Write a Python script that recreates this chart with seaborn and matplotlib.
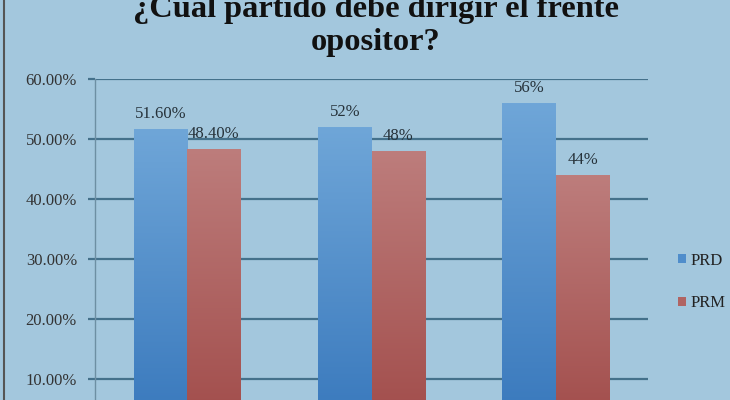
import matplotlib
matplotlib.use("Agg")
import matplotlib.pyplot as plt
import numpy as np
import pandas as pd
import seaborn as sns
from matplotlib.ticker import PercentFormatter
from matplotlib.colors import LinearSegmentedColormap
from matplotlib.lines import Line2D

# data (x labels are cropped out of the reference)
title = "¿Cuál partido debe dirigir el frente\nopositor?"
categories = ["Encuesta 1", "Encuesta 2", "Encuesta 3"]
parties = ["PRD", "PRM"]
prd_values = [51.6, 52.0, 56.0]
prm_values = [48.4, 48.0, 44.0]
prd_labels = ["51.60%", "52%", "56%"]
prm_labels = ["48.40%", "48%", "44%"]
y_ticks = [10, 20, 30, 40, 50, 60]  # 0% is below the cropped edge

df = pd.DataFrame({
    "categoria": categories * 2,
    "partido": [parties[0]] * len(categories) + [parties[1]] * len(categories),
    "valor": prd_values + prm_values,
})

bg = "#a3c7dd"
grid_color = "#44718b"
palette = {"PRD": "#4f8dcb", "PRM": "#b06463"}
# bottom -> top gradient, like the excel bars
gradients = {
    "PRD": ("#3676bb", "#6fa6d8"),
    "PRM": ("#a04a48", "#bd7d7c"),
}

sns.set_theme(style="white")
plt.rcParams["font.family"] = ["Liberation Serif", "DejaVu Serif"]

fig = plt.figure(figsize=(7.3, 4), dpi=100, facecolor=bg)
# axes runs past the bottom edge, the reference is cropped there
ax = fig.add_axes([95 / 730, -39 / 400, 553 / 730, 360 / 400])
ax.set_facecolor(bg)

sns.barplot(data=df, x="categoria", y="valor", hue="partido", palette=palette,
            width=0.58, saturation=1, linewidth=0, edgecolor="none", ax=ax, zorder=3)

# gradient fill clipped to each bar
for container, party in zip(ax.containers, parties):
    cmap = LinearSegmentedColormap.from_list(party, gradients[party])
    grad = np.linspace(0, 1, 256).reshape(-1, 1)
    for bar in container:
        x0 = bar.get_x()
        w = bar.get_width()
        h = bar.get_height()
        im = ax.imshow(grad, cmap=cmap, origin="lower", extent=[x0, x0 + w, 0, h],
                       aspect="auto", zorder=3.5)
        im.set_clip_path(bar)

ax.set_xlim(-0.5, len(categories) - 0.5)
ax.set_ylim(0, 60)

for container, labels in zip(ax.containers, [prd_labels, prm_labels]):
    ax.bar_label(container, labels=labels, padding=5, fontsize=12, color="#26323a", zorder=5)

ax.set_yticks(y_ticks)
ax.yaxis.set_major_formatter(PercentFormatter(decimals=2))
ax.yaxis.grid(True, color=grid_color, linewidth=1.6)
ax.set_axisbelow(True)
ax.tick_params(axis="y", left=True, length=5, width=1.6, color=grid_color, pad=8,
               labelsize=12, labelcolor="#333333")
# category labels sit below the cropped edge in the reference
ax.tick_params(axis="x", bottom=False, labelbottom=False)
ax.set_xlabel("")
ax.set_ylabel("")

for side in ["top", "right", "bottom"]:
    ax.spines[side].set_visible(False)
ax.spines["left"].set_color("#6d8fa3")
ax.spines["left"].set_linewidth(1)

handles, labels = ax.get_legend_handles_labels()
ax.legend_.remove()
fig.legend(handles, labels, loc="center left", bbox_to_anchor=(663 / 730, 1 - 282 / 400),
           frameon=False, handlelength=0.45, handleheight=0.45, handletextpad=0.3,
           labelspacing=1.6, fontsize=12, labelcolor="#222222")

# title is cut at the top edge in the reference too
fig.text(376 / 730, 1 - 26 / 400, title, ha="center", va="center", fontsize=23.3,
         fontweight="bold", color="#111111", linespacing=1.2)

# thin frame line on the left edge
fig.add_artist(Line2D([4 / 730, 4 / 730], [0, 1], transform=fig.transFigure,
                      color="#555555", linewidth=1.5))

fig.savefig("out.png", dpi=100, facecolor=bg)
